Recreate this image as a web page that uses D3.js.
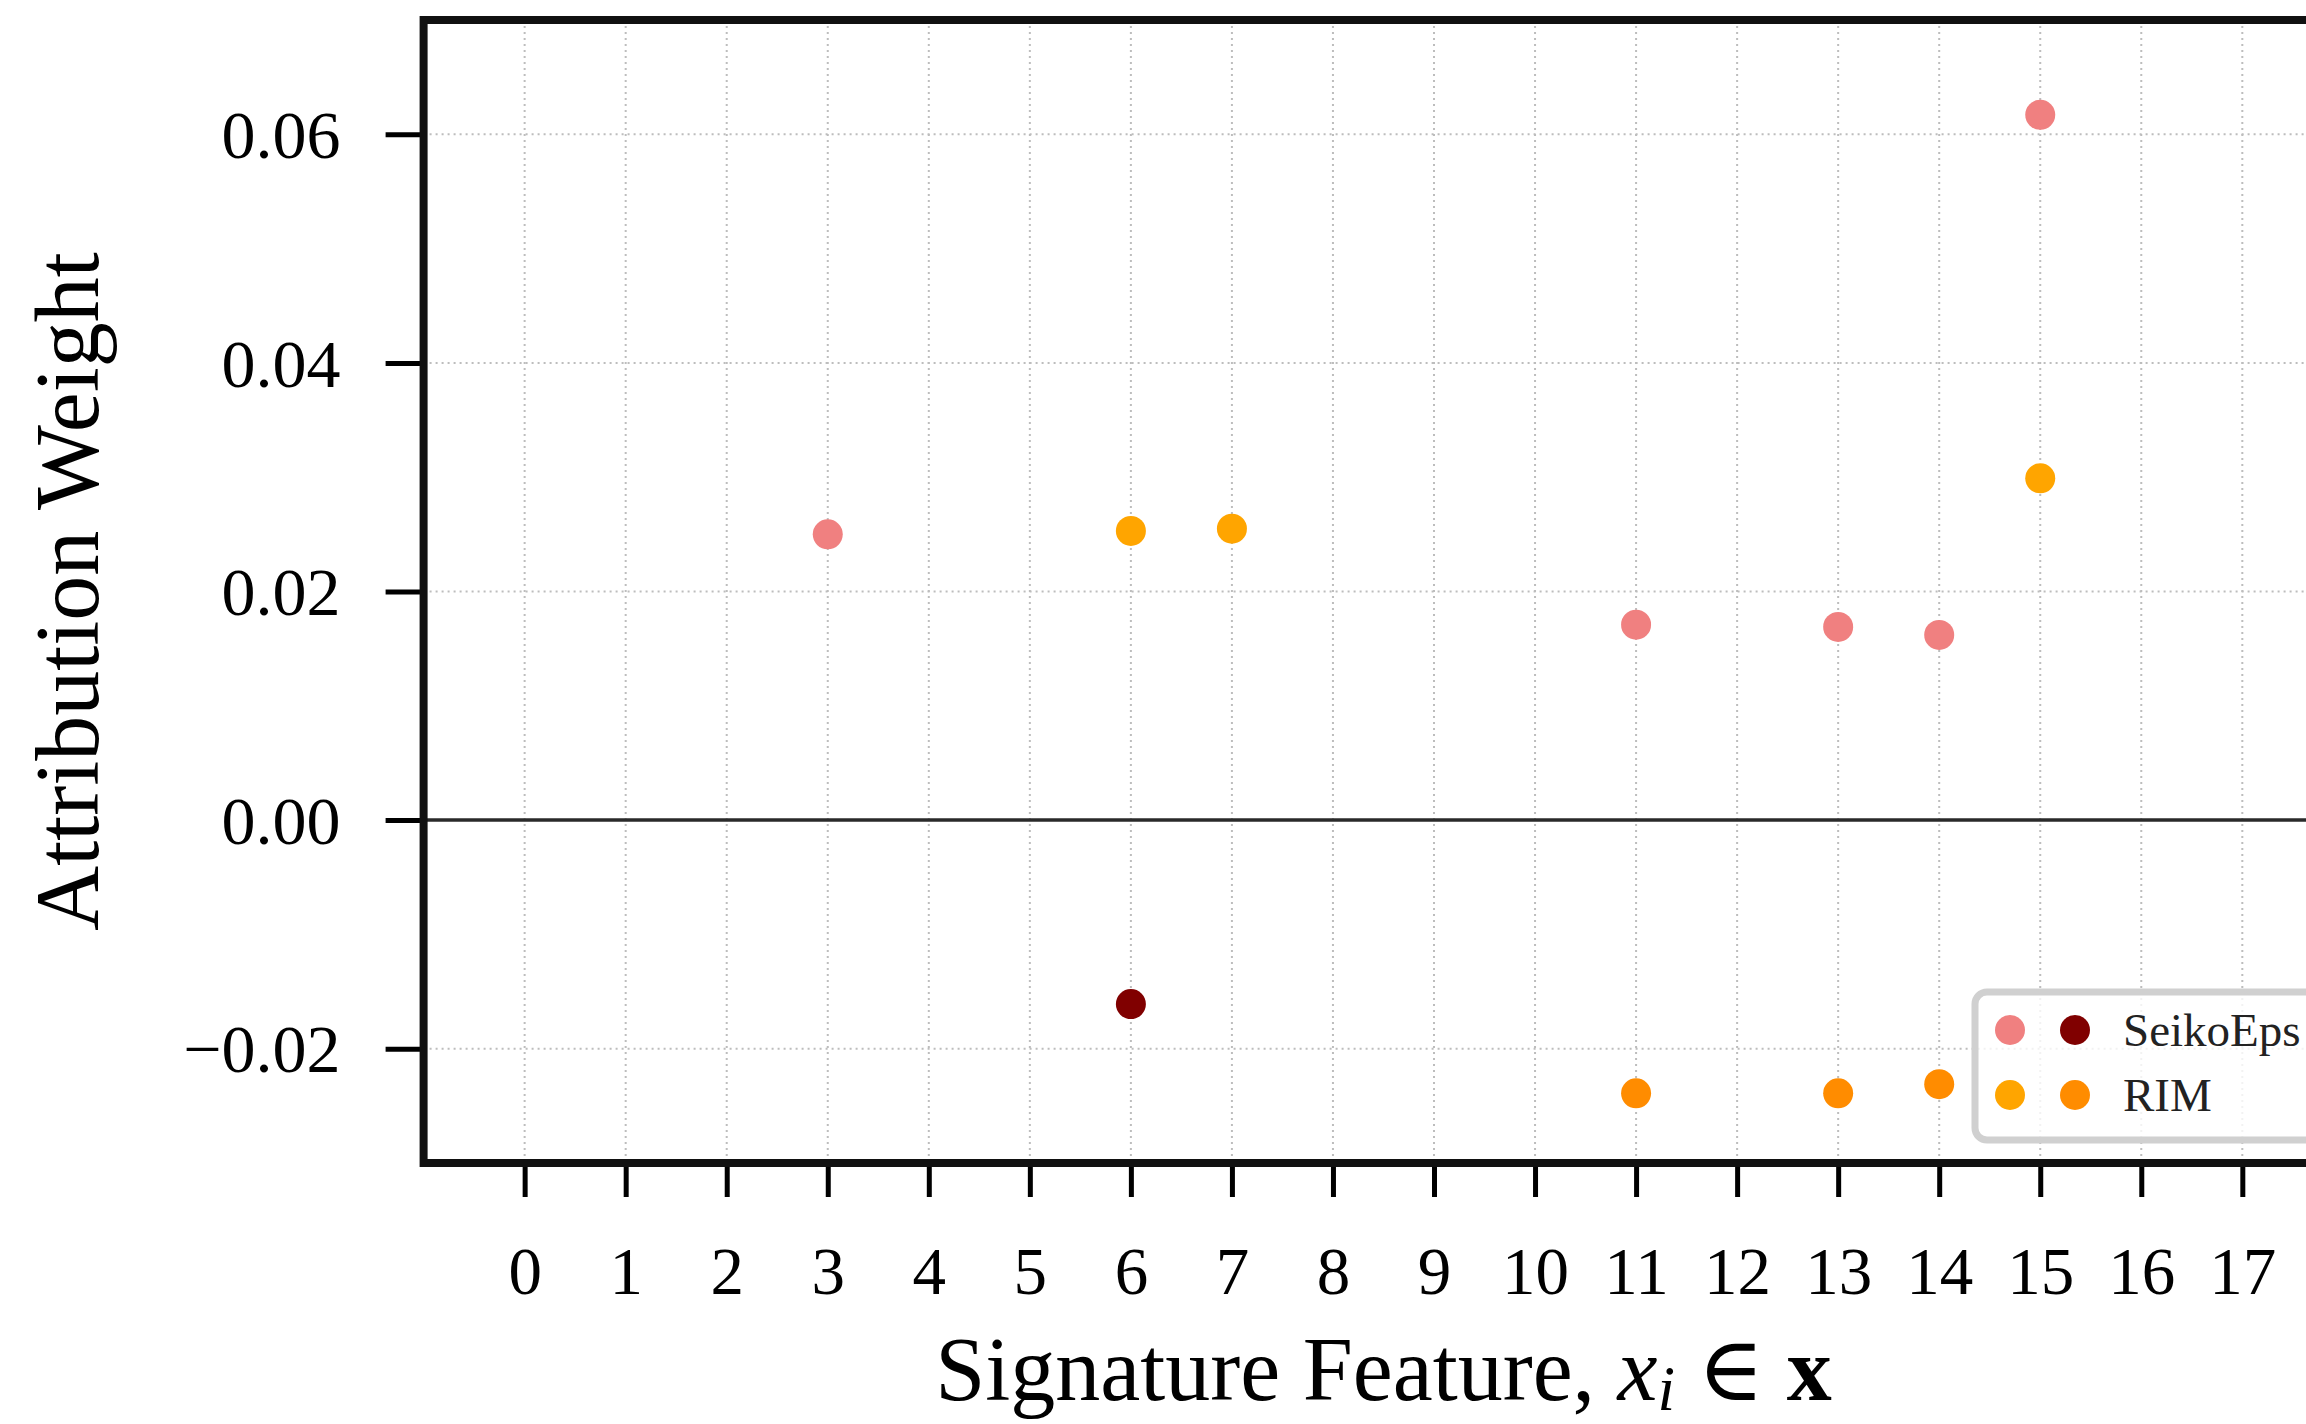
<!DOCTYPE html>
<html>
<head>
<meta charset="utf-8">
<script src="https://cdn.jsdelivr.net/npm/d3@7"></script>
<style>
  body { margin: 0; background: #fff; }
  svg { display: block; font-family: "Liberation Serif", "DejaVu Serif", serif; }
</style>
</head>
<body>
<div id="chart"></div>
<script>
// feature indices on the x axis
const features = d3.range(0, 18);
const yTicks = [-0.02, 0.00, 0.02, 0.04, 0.06];

// SeikoEps attributions
const seikoPos = [
  { x: 3, y: 0.0250 },
  { x: 11, y: 0.0171 },
  { x: 13, y: 0.0169 },
  { x: 14, y: 0.0162 },
  { x: 15, y: 0.0617 }
];
const seikoNeg = [
  { x: 6, y: -0.0161 }
];

// RIM attributions
const rimPos = [
  { x: 6, y: 0.0253 },
  { x: 7, y: 0.0255 },
  { x: 15, y: 0.0299 }
];
const rimNeg = [
  { x: 11, y: -0.0239 },
  { x: 13, y: -0.0239 },
  { x: 14, y: -0.0231 }
];

const series = [
  { data: seikoPos, color: "#f08080" },
  { data: seikoNeg, color: "#800000" },
  { data: rimPos, color: "#ffa500" },
  { data: rimNeg, color: "#ff8c00" }
];

const legendRows = [
  { label: "SeikoEps", colors: ["#f08080", "#800000"] },
  { label: "RIM", colors: ["#ffa500", "#ff8c00"] }
];

const width = 2306, height = 1424;
const plotLeft = 423.6, plotTop = 20, plotBottom = 1163;
const step = 101.04;

const svg = d3.select("#chart").append("svg")
  .attr("width", width)
  .attr("height", height);

const x = d3.scaleLinear().domain([-1, 18]).range([plotLeft, plotLeft + 19 * step]);
const y = d3.scaleLinear().domain([-0.03, 0.07]).range([plotBottom, plotTop]);

// grid
const grid = svg.append("g");
grid.selectAll(".vg").data(features).enter().append("line")
  .attr("x1", d => x(d)).attr("x2", d => x(d))
  .attr("y1", plotTop).attr("y2", plotBottom)
  .attr("stroke", "#bdbdbd").attr("stroke-width", 2)
  .attr("stroke-dasharray", "2,4");
grid.selectAll(".hg").data(yTicks).enter().append("line")
  .attr("x1", plotLeft).attr("x2", x(18))
  .attr("y1", d => y(d)).attr("y2", d => y(d))
  .attr("stroke", "#bdbdbd").attr("stroke-width", 2)
  .attr("stroke-dasharray", "2,4");

// zero line
svg.append("line")
  .attr("x1", plotLeft).attr("x2", x(18))
  .attr("y1", y(0)).attr("y2", y(0))
  .attr("stroke", "#2a2a2a").attr("stroke-width", 3.5);

// points
series.forEach(s => {
  svg.append("g").selectAll("circle")
    .data(s.data)
    .enter().append("circle")
    .attr("cx", d => x(d.x))
    .attr("cy", d => y(d.y))
    .attr("r", 15)
    .attr("fill", s.color);
});

// axes
const xAxis = svg.append("g")
  .attr("transform", `translate(0,${plotBottom})`)
  .call(d3.axisBottom(x).tickValues(features).tickSize(34).tickFormat(d3.format("d")));
xAxis.select(".domain").remove();
xAxis.selectAll(".tick line").attr("stroke", "#000").attr("stroke-width", 5);
xAxis.selectAll(".tick text")
  .attr("y", 131).attr("dy", 0)
  .attr("fill", "#000")
  .style("font-size", "67px")
  .style("font-family", "Liberation Serif");

const yAxis = svg.append("g")
  .attr("transform", `translate(${plotLeft},0)`)
  .call(d3.axisLeft(y).tickValues(yTicks).tickSize(38)
    .tickFormat(d => (d < 0 ? "\u2212" : "") + Math.abs(d).toFixed(2)));
yAxis.select(".domain").remove();
yAxis.selectAll(".tick line").attr("stroke", "#000").attr("stroke-width", 5);
yAxis.selectAll(".tick text")
  .attr("x", -83).attr("dy", "0.34em")
  .attr("fill", "#000")
  .style("font-size", "68px")
  .style("font-family", "Liberation Serif");

// spines
svg.append("rect")
  .attr("x", plotLeft).attr("y", plotTop)
  .attr("width", x(18) - plotLeft).attr("height", plotBottom - plotTop)
  .attr("fill", "none").attr("stroke", "#111").attr("stroke-width", 8);

// legend
const lg = svg.append("g");
lg.append("rect")
  .attr("x", 1975).attr("y", 992)
  .attr("width", 420).attr("height", 148)
  .attr("rx", 12)
  .attr("fill", "#fff").attr("fill-opacity", 0.8)
  .attr("stroke", "#d0d0d0").attr("stroke-width", 7);
legendRows.forEach((row, i) => {
  const cy = 1030 + i * 65;
  row.colors.forEach((c, j) => {
    lg.append("circle").attr("cx", 2010 + j * 65).attr("cy", cy).attr("r", 15).attr("fill", c);
  });
  lg.append("text")
    .attr("x", 2123).attr("y", cy).attr("dy", "0.34em")
    .style("font-size", "47px")
    .attr("fill", "#222")
    .text(row.label);
});

// axis labels
const xl = svg.append("text")
  .attr("x", x(8.5)).attr("y", 1400)
  .attr("text-anchor", "middle")
  .style("font-size", "90px");
xl.append("tspan").text("Signature Feature, ");
xl.append("tspan").style("font-style", "italic").text("x");
xl.append("tspan").style("font-style", "italic").style("font-size", "63px").attr("dy", 10).text("i");
xl.append("tspan").attr("dy", -10).text(" \u2208 ");
xl.append("tspan").style("font-weight", "bold").text("x");

svg.append("text")
  .attr("transform", `translate(98,${(plotTop + plotBottom) / 2}) rotate(-90)`)
  .attr("text-anchor", "middle")
  .style("font-size", "90px")
  .text("Attribution Weight");
</script>
</body>
</html>
